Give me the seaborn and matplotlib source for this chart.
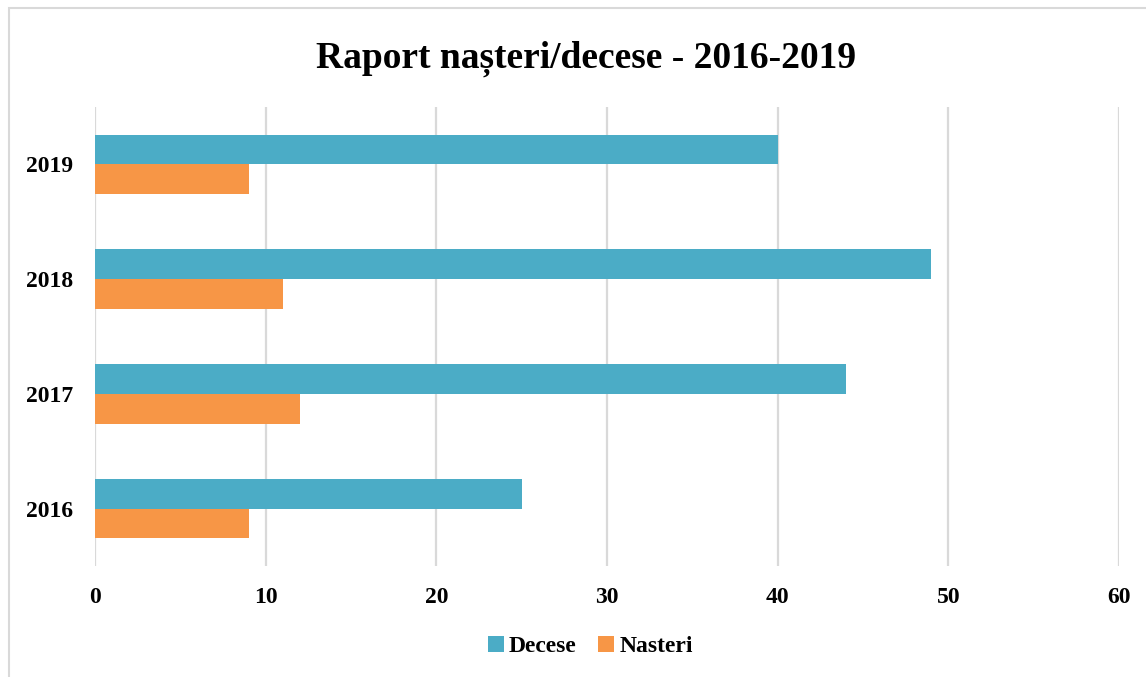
import pandas as pd
import matplotlib.pyplot as plt
from matplotlib.patches import Rectangle
import seaborn as sns

years = ['2019', '2018', '2017', '2016']
decese = [40, 49, 44, 25]
nasteri = [9, 11, 12, 9]
series = ['Decese', 'Nasteri']
colors = ['#4BACC6', '#F79646']

df = pd.DataFrame({
    'An': years * 2,
    'Valoare': decese + nasteri,
    'Serie': ['Decese'] * len(years) + ['Nasteri'] * len(years),
})

sns.set_style('white')
plt.rcParams['font.family'] = ['Liberation Serif', 'DejaVu Serif']
plt.rcParams['font.weight'] = 'bold'
plt.rcParams['text.color'] = 'black'
plt.rcParams['xtick.color'] = 'black'
plt.rcParams['ytick.color'] = 'black'

fig = plt.figure(figsize=(11.46, 6.77), dpi=100)
ax = fig.add_axes([0.0829, 0.164, 0.8936, 0.678])

sns.barplot(data=df, y='An', x='Valoare', hue='Serie', order=years,
            hue_order=series, palette=colors, orient='h', width=0.52,
            saturation=1, linewidth=0, ax=ax, legend=True)

ax.set_xlim(0, 60)
ax.set_xticks(range(0, 61, 10))
ax.grid(axis='x', color='#D9D9D9', linewidth=1.6)
ax.set_axisbelow(True)
for s in ax.spines.values():
    s.set_visible(False)
ax.set_xlabel('')
ax.set_ylabel('')
ax.tick_params(axis='x', labelsize=17, pad=15, length=0)
ax.tick_params(axis='y', labelsize=17, pad=16, length=0)
for lab in ax.get_xticklabels() + ax.get_yticklabels():
    lab.set_fontweight('bold')

fig.suptitle('Raport nașteri/decese - 2016-2019', fontsize=27, fontweight='bold',
             x=0.511, y=0.94)

handles, labels = ax.get_legend_handles_labels()
ax.legend_.remove()
fig.legend(handles, labels, loc='center', bbox_to_anchor=(0.515, 0.045),
           ncol=2, frameon=False, prop={'size': 17, 'weight': 'bold'},
           handlelength=0.7, handleheight=0.7, handletextpad=0.2,
           columnspacing=0.9)

# chart border
fig.patches.append(Rectangle((9 / 1146, -0.05), 1.1, (677 - 8) / 677 + 0.05,
                             transform=fig.transFigure, fill=False,
                             edgecolor='#D9D9D9', linewidth=1.5))

fig.savefig('out.png', dpi=100)
